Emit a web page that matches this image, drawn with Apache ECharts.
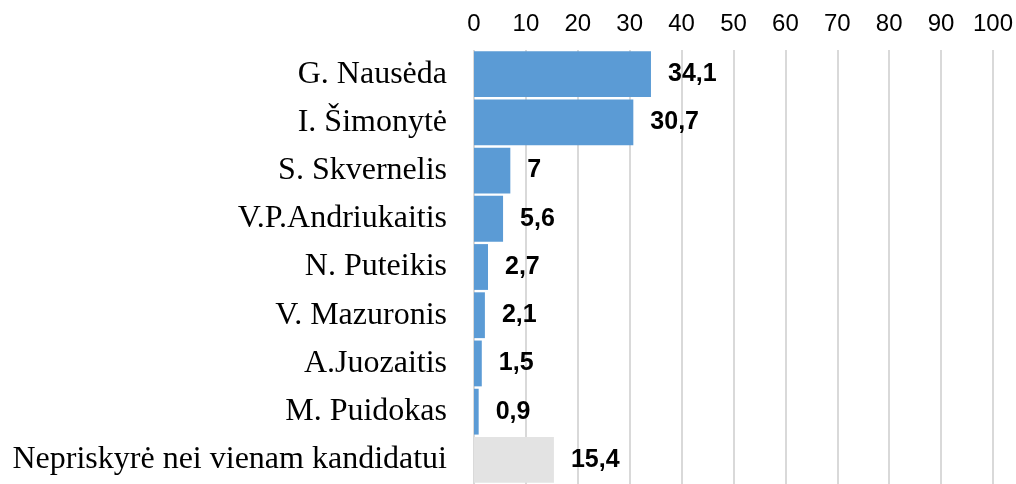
<!DOCTYPE html>
<html>
<head>
<meta charset="utf-8">
<script src="https://cdn.jsdelivr.net/npm/echarts@6/dist/echarts.min.js"></script>
<style>
  html, body { margin: 0; padding: 0; background: #fff; }
  #chart { width: 1016px; height: 484px; }
</style>
</head>
<body>
<div id="chart"></div>
<script>
const candidates = ['G. Nausėda', 'I. Šimonytė', 'S. Skvernelis', 'V.P.Andriukaitis', 'N. Puteikis',
  'V. Mazuronis', 'A.Juozaitis', 'M. Puidokas', 'Nepriskyrė nei vienam kandidatui'];
const support = [34.1, 30.7, 7, 5.6, 2.7, 2.1, 1.5, 0.9, 15.4];
const tickLabels = [0, 10, 20, 30, 40, 50, 60, 70, 80, 90, 100];

const chart = echarts.init(document.getElementById('chart'));

const option = {
    animation: false,
    grid: { left: 474, right: 22, top: 50, bottom: -6 },
    xAxis: {
        type: 'value',
        position: 'top',
        min: tickLabels[0],
        max: tickLabels[tickLabels.length - 1],
        interval: 10,
        axisLine: { show: false },
        axisTick: { show: false },
        axisLabel: { color: '#000', fontFamily: 'Liberation Sans', fontSize: 24, margin: 14 },
        splitLine: { lineStyle: { color: '#d9d9d9', width: 2 } }
    },
    yAxis: {
        type: 'category',
        inverse: true,
        data: candidates,
        axisLine: { show: false },
        axisTick: { show: false },
        axisLabel: { color: '#000', fontFamily: 'Liberation Serif', fontSize: 32, margin: 27 }
    },
    series: [{
        type: 'bar',
        barCategoryGap: '5%',
        data: support.map((v, i) => ({
            value: v,
            itemStyle: { color: i === support.length - 1 ? '#e3e3e3' : '#5b9bd5' }
        })),
        label: {
            show: true,
            position: 'right',
            distance: 17,
            color: '#000',
            fontFamily: 'Liberation Sans',
            fontWeight: 'bold',
            fontSize: 25,
            formatter: p => String(p.value).replace('.', ',')
        }
    }]
};

chart.setOption(option);
</script>
</body>
</html>
